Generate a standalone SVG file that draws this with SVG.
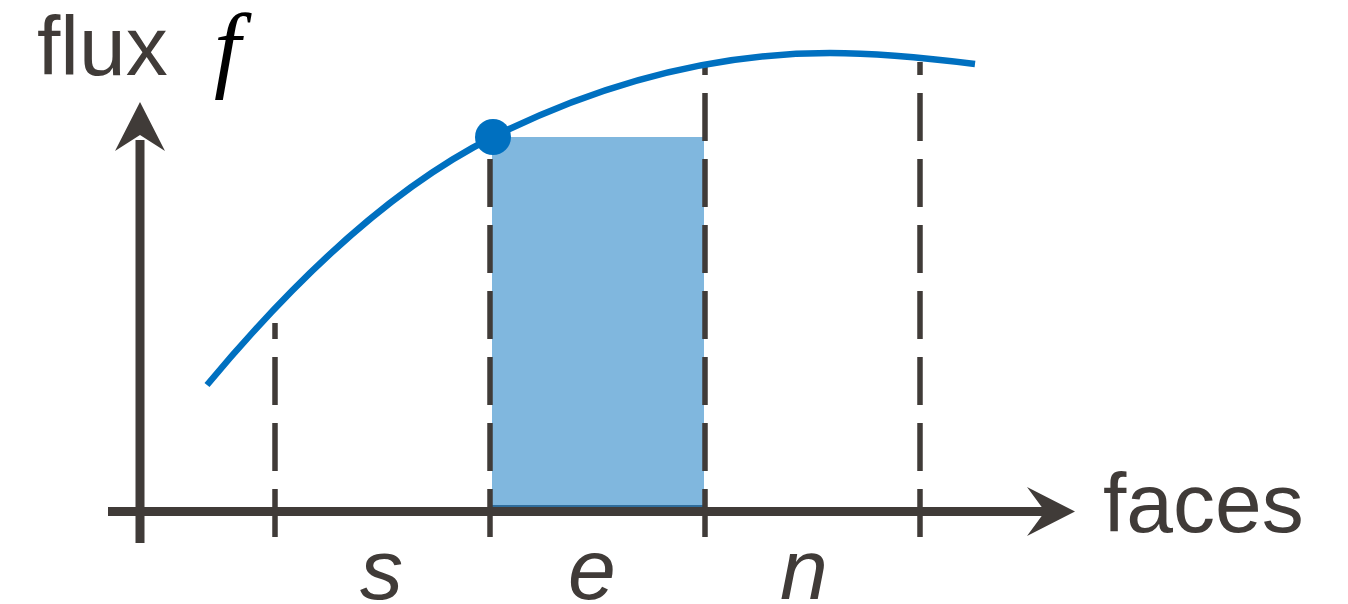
<svg xmlns="http://www.w3.org/2000/svg" width="1348" height="604" viewBox="0 0 1348 604">
<style>
.axis{stroke:#403b38;stroke-width:9;fill:none}
.head{fill:#403b38}
.dash{stroke:#403b38;stroke-width:5.5;stroke-dasharray:48 18;fill:none}
.lbl{font-family:"Liberation Sans",Arial,sans-serif;font-size:84px;fill:#403b38}
.var{font-family:"Liberation Sans",Arial,sans-serif;font-size:86px;font-style:italic;fill:#403b38}
</style>
<rect width="1348" height="604" fill="#ffffff"/>
<g id="bar">
<rect x="492" y="137" width="212" height="370" fill="#80b7de"/>
<line x1="492" y1="506" x2="704" y2="506" stroke="#2f6d9c" stroke-width="2"/>
</g>
<g id="connectors">
<line class="dash" x1="275" y1="537" x2="275" y2="323"/>
<line class="dash" x1="490" y1="537" x2="490" y2="159"/>
<line class="dash" x1="705" y1="537" x2="705" y2="62"/>
<line class="dash" x1="920" y1="537" x2="920" y2="62"/>
<line class="axis" x1="140" y1="543" x2="140" y2="140"/>
<polygon class="head" points="140,102 165,151 140,135 115,151"/>
<line class="axis" x1="108" y1="511.5" x2="1050" y2="511.5"/>
<polygon class="head" points="1075,511.5 1027,487 1045,511.5 1027,536"/>
</g>
<g id="curve">
<path d="M207,385 C302,271 398,184.5 493,137 C605,81 718,53 830,53 C878,53 927,58 975,64" fill="none" stroke="#0070c0" stroke-width="6.5"/>
<circle cx="493" cy="137" r="18" fill="#0070c0"/>
</g>
<g id="labels">
<text class="lbl" x="37" y="75">flux</text>
<text x="214" y="80" font-family="'Liberation Serif','Times New Roman',serif" font-style="italic" font-size="96" fill="#000000">f</text>
<text class="lbl" x="1103" y="532">faces</text>
<text class="var" x="360" y="599">s</text>
<text class="var" x="568" y="599">e</text>
<text class="var" x="780" y="599">n</text>
</g>
</svg>
